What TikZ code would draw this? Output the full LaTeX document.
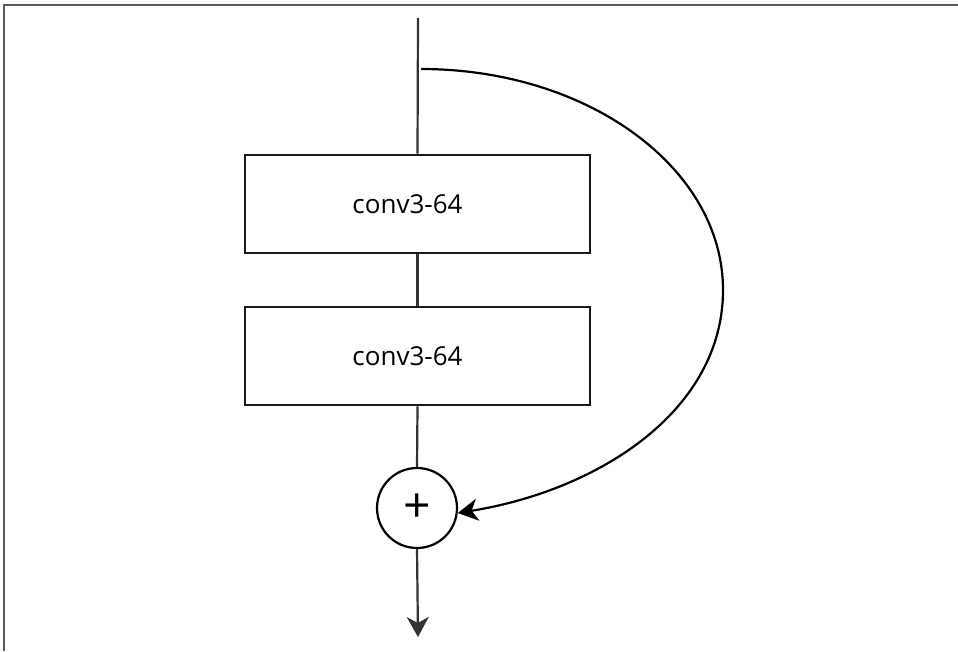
\documentclass[tikz,border=0pt]{standalone}
\usepackage{fontspec}
\setmainfont{Open Sans}
\usetikzlibrary{arrows.meta}
\begin{document}
\begin{tikzpicture}[x=1pt,y=-1pt,
  conv/.style={draw=black!90,line width=2.6pt,minimum width=345pt,minimum height=98pt,inner sep=0pt,font=\fontsize{26}{30}\selectfont},
  addnode/.style={draw=black,line width=2.2pt,circle,minimum size=80pt,inner sep=0pt,font=\fontsize{48}{52}\selectfont},
  link/.style={draw=black!80,line width=2.2pt},
  tip/.style={-{Stealth[length=20pt,width=22pt,inset=6pt]}}]
\useasboundingbox (0,0) rectangle (958,651);
\draw[draw=black!65,line width=2.4pt] (4,651) -- (4,5) -- (958,5);
\coordinate (in) at (418,18);
\coordinate (skip) at (421,69);
\coordinate (out) at (418,637);
\node[conv] (c1) at (417.5,204) {\kern-20pt conv3-64};
\node[conv] (c2) at (417.5,356) {\kern-20pt conv3-64};
\node[addnode] (add) at (417,508) {+};
\draw[link] (in) -- (c1.north);
\draw[link] (c1.south) -- (c2.north);
\draw[link] (c2.south) -- (add.north);
\draw[link,tip] (add.south) -- (out);
\draw[draw=black,line width=2.2pt,tip] (skip) .. controls (588,69) and (723,168) .. (723,290) .. controls (723,410) and (600,490) .. (add.-7);
\end{tikzpicture}
\end{document}
